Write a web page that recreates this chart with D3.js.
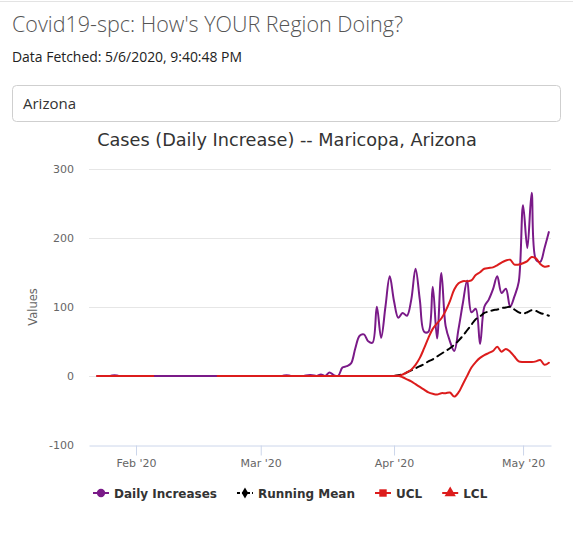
<!DOCTYPE html>
<html>
<head>
<meta charset="utf-8">
<script src="https://cdn.jsdelivr.net/npm/d3@7"></script>
<style>
  body { margin: 0; background: #fff; }
  svg { display: block; }
</style>
</head>
<body>
<div id="chart"></div>
<script>
// data: one value per day, 2020-01-22 .. 2020-05-06 (Arizona midnight)
var firstDay = "2020-01-22T07:00:00Z";
var lastDay = "2020-05-06T07:00:00Z";

var dailyIncreases = [
  0, 0, 0, 0, 1, 0, 0, 0, 0, 0,
  0, 0, 0, 0, 0, 0, 0, 0, 0, 0, 0, 0, 0, 0, 0, 0, 0, 0, 0, 0, 0, 0, 0, 0, 0, 0, 0, 0, 0,
  0, 0, 0, 0, 0, 1, 0, 0, 0, 0, 1, 1, 0, 2, 0, 5, 1, 0, 12, 14, 18, 40, 58, 60, 50, 48, 100, 55, 100, 144, 108,
  84, 91, 87, 110, 155, 110, 64, 64, 129, 54, 149, 72, 50, 36, 68, 105, 138, 92, 97, 46, 100, 110, 125, 144, 120, 126, 100, 115, 136, 247,
  185, 265, 168, 165, 185, 208
];

var runningMean = [
  null, null, null, null, null, null, null, null, null, null,
  null, null, null, null, null, null, null, null, null, null, null, null, null, null, null, null, null, null, null, null, null, null, null, null, null, null, null, null, null,
  null, null, null, null, null, null, null, null, null, null, null, null, null, null, null, null, null, null, null, null, null, null, null, null, null, null, null, null, null, null, 0,
  1, 2, 5, 8, 11, 14, 17, 21, 24, 28, 32, 36, 40, 45, 51, 58, 66, 74, 82, 86, 91, 93, 95, 96, 98, 99, 100, 96, 92, 90,
  92, 95, 94, 91, 89, 87
];

var ucl = [
  0, 0, 0, 0, 0, 0, 0, 0, 0, 0,
  0, 0, 0, 0, null, null, null, null, null, null, null, null, null, null, null, null, null, null, 0, 0, 0, 0, 0, 0, 0, 0, 0, 0, 0,
  0, 0, 0, 0, 0, 0, 0, 0, 0, 0, 0, 0, 0, 0, 0, 0, 0, 0, 0, 0, 0, 0, 0, 0, 0, 0, 0, 0, 0, 0, 0,
  0, 2, 5, 9, 16, 26, 40, 55, 68, 76, 83, 94, 108, 125, 134, 137, 137, 138, 146, 150, 155, 156, 157, 160, 164, 167, 168, 161, 161, 163,
  166, 172, 170, 162, 158, 159
];

var lcl = [
  0, 0, 0, 0, 0, 0, 0, 0, 0, 0,
  0, 0, 0, 0, null, null, null, null, null, null, null, null, null, null, null, null, null, null, 0, 0, 0, 0, 0, 0, 0, 0, 0, 0, 0,
  0, 0, 0, 0, 0, 0, 0, 0, 0, 0, 0, 0, 0, 0, 0, 0, 0, 0, 0, 0, 0, 0, 0, 0, 0, 0, 0, 0, 0, 0, 0,
  0, -2, -5, -8, -12, -16, -20, -24, -26, -27, -25, -25, -24, -30, -24, -12, 0, 12, 20, 26, 30, 33, 36, 42, 35, 39, 35, 28, 21, 20,
  20, 20, 21, 23, 16, 19
];

var yTicks = [-100, 0, 100, 200, 300];
var xTickDates = ["2020-02-01", "2020-03-01", "2020-04-01", "2020-05-01"];
var xTickLabels = ["Feb '20", "Mar '20", "Apr '20", "May '20"];
var seriesNames = ["Daily Increases", "Running Mean", "UCL", "LCL"];

var width = 573, height = 547;
var plotLeft = 89, plotRight = 551, plotTop = 168.5, plotBottom = 445;

var days = d3.utcDay.range(new Date(firstDay), d3.utcDay.offset(new Date(lastDay), 1));

var svg = d3.select("#chart").append("svg")
    .attr("width", width)
    .attr("height", height)
    .style("background-color", "white");

// fit a text element to a measured width
function fitWidth(sel, target) {
    var w = sel.node().getComputedTextLength();
    var fs = parseFloat(sel.attr("font-size"));
    sel.attr("font-size", (fs * target / w).toFixed(2));
}

// page header
svg.append("line")
    .attr("x1", 0).attr("x2", width).attr("y1", 1.5).attr("y2", 1.5)
    .attr("stroke", "#e3e3e3");

var pageTitle = svg.append("text")
    .attr("x", 12).attr("y", 32)
    .attr("font-family", "'Open Sans', sans-serif")
    .attr("font-weight", 300)
    .attr("font-size", 24)
    .attr("fill", "#555")
    .text("Covid19-spc: How's YOUR Region Doing?");
fitWidth(pageTitle, 391);

var fetched = svg.append("text")
    .attr("x", 12).attr("y", 62)
    .attr("font-family", "'Open Sans', sans-serif")
    .attr("font-size", 14)
    .attr("fill", "#222")
    .text("Data Fetched: 5/6/2020, 9:40:48 PM");
fitWidth(fetched, 230);

svg.append("rect")
    .attr("x", 12.5).attr("y", 85.5)
    .attr("width", 548).attr("height", 36)
    .attr("rx", 4)
    .attr("fill", "white")
    .attr("stroke", "#cfcfcf");

svg.append("text")
    .attr("x", 23).attr("y", 109)
    .attr("font-family", "'Open Sans', sans-serif")
    .attr("font-size", 15)
    .attr("fill", "#333")
    .text("Arizona");

// chart title
svg.append("text")
    .attr("x", 287).attr("y", 146)
    .attr("text-anchor", "middle")
    .attr("font-family", "'DejaVu Sans', sans-serif")
    .attr("font-size", 17.7)
    .attr("fill", "#333333")
    .text("Cases (Daily Increase) -- Maricopa, Arizona");

// scales
var x = d3.scaleUtc()
    .domain([new Date(Date.UTC(2020, 0, 21, 1, 40)), new Date(Date.UTC(2020, 4, 7, 12))])
    .range([plotLeft, plotRight]);

var y = d3.scaleLinear()
    .domain([-100, 300])
    .range([plotBottom, plotTop]);

// grid
svg.append("g")
    .selectAll("line")
    .data(yTicks.filter(function(d) { return d > -100; }))
    .enter().append("line")
        .attr("x1", plotLeft).attr("x2", plotRight)
        .attr("y1", function(d) { return Math.round(y(d)) + 0.5; })
        .attr("y2", function(d) { return Math.round(y(d)) + 0.5; })
        .attr("stroke", "#e6e6e6");

// y labels
svg.append("g")
    .selectAll("text")
    .data(yTicks)
    .enter().append("text")
        .attr("x", 74)
        .attr("y", function(d) { return y(d) + 4; })
        .attr("text-anchor", "end")
        .attr("font-family", "'DejaVu Sans', sans-serif")
        .attr("font-size", 11)
        .attr("fill", "#666666")
        .text(function(d) { return d; });

svg.append("text")
    .attr("transform", "translate(37," + 307 + ") rotate(-90)")
    .attr("text-anchor", "middle")
    .attr("font-family", "'DejaVu Sans', sans-serif")
    .attr("font-size", 11.5)
    .attr("fill", "#666666")
    .text("Values");

// x axis
var xAxis = d3.axisBottom(x)
    .tickValues(xTickDates.map(function(d) { return new Date(d + "T00:00:00Z"); }))
    .tickFormat(function(d, i) { return xTickLabels[i]; })
    .tickSize(10)
    .tickSizeOuter(0)
    .tickPadding(4);

var gx = svg.append("g")
    .attr("transform", "translate(0," + (Math.round(y(-100)) + 0.5) + ")")
    .call(xAxis);
gx.select(".domain").attr("stroke", "#ccd6eb");
gx.selectAll(".tick line").attr("stroke", "#ccd6eb");
gx.selectAll(".tick text")
    .attr("font-family", "'DejaVu Sans', sans-serif")
    .attr("font-size", 11)
    .attr("fill", "#666666");

// series
svg.append("clipPath").attr("id", "plot-clip")
    .append("rect")
    .attr("x", plotLeft).attr("y", plotTop - 10)
    .attr("width", plotRight - plotLeft).attr("height", plotBottom - plotTop + 10);

function lineFor(values) {
    return d3.line()
        .defined(function(d, i) { return values[i] !== null; })
        .x(function(d, i) { return x(days[i]); })
        .y(function(d, i) { return y(values[i]); })
        .curve(d3.curveCatmullRom.alpha(0.5))(days);
}

var series = [
    { name: seriesNames[0], values: dailyIncreases, color: "#7a1a88", dash: null, symbol: d3.symbolCircle },
    { name: seriesNames[1], values: runningMean, color: "#000000", dash: "7,5", symbol: d3.symbolDiamond },
    { name: seriesNames[2], values: ucl, color: "#dc1c1c", dash: null, symbol: d3.symbolSquare },
    { name: seriesNames[3], values: lcl, color: "#dc1c1c", dash: null, symbol: d3.symbolTriangle }
];

var plot = svg.append("g").attr("clip-path", "url(#plot-clip)");
plot.selectAll("path")
    .data(series)
    .enter().append("path")
        .attr("d", function(s) { return lineFor(s.values); })
        .attr("fill", "none")
        .attr("stroke", function(s) { return s.color; })
        .attr("stroke-width", 2)
        .attr("stroke-dasharray", function(s) { return s.dash; })
        .attr("stroke-linejoin", "round")
        .attr("stroke-linecap", "round");

// legend
var legend = svg.append("g");
var lx = 93, ly = 493;
series.forEach(function(s) {
    var item = legend.append("g").attr("transform", "translate(" + lx + "," + ly + ")");
    item.append("line")
        .attr("x1", 0).attr("x2", 16).attr("y1", 0).attr("y2", 0)
        .attr("stroke", s.color).attr("stroke-width", 2)
        .attr("stroke-dasharray", s.dash ? "3,2" : null);
    item.append("path")
        .attr("transform", "translate(8,0)")
        .attr("d", d3.symbol().type(s.symbol).size(s.symbol === d3.symbolDiamond ? 36 : 55)())
        .attr("fill", s.color);
    var t = item.append("text")
        .attr("x", 21).attr("y", 4.5)
        .attr("font-family", "'DejaVu Sans', sans-serif")
        .attr("font-weight", "bold")
        .attr("font-size", 12)
        .attr("fill", "#333333")
        .text(s.name);
    lx += 21 + t.node().getComputedTextLength() + 20;
});
</script>
</body>
</html>
